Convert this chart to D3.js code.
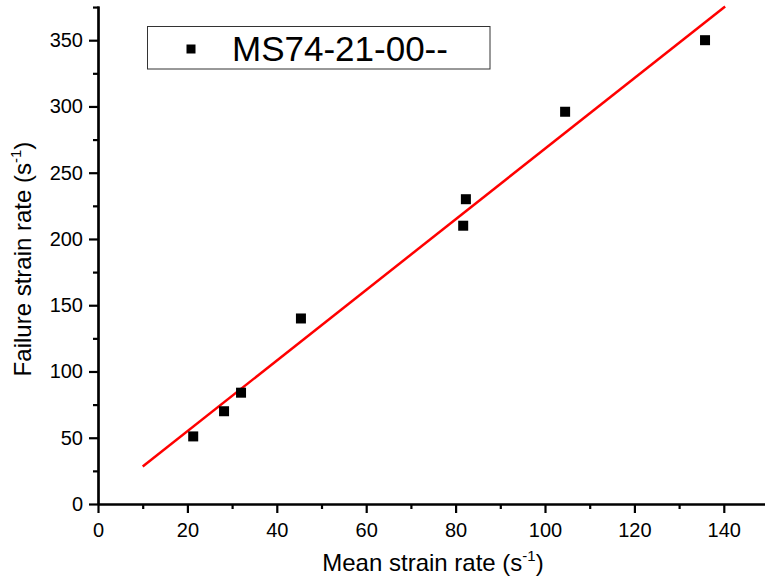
<!DOCTYPE html>
<html>
<head>
<meta charset="utf-8">
<script src="https://cdn.jsdelivr.net/npm/d3@7"></script>
<style>
    body { margin: 0; background: #fff; }
    text { font-family: Arial, 'Liberation Sans', sans-serif; fill: #000; }
</style>
</head>
<body>
<div class="chartPlaceholder"></div>
<script>
// data
const meanRate = [21.3, 28.2, 32.0, 45.4, 81.7, 82.3, 104.5, 135.8];
const failureRate = [51, 70, 84, 140, 210, 230, 296, 350];
const fitX = [10, 140.3];
const fitY = [28.3, 375.5];
const xTicks = [0, 20, 40, 60, 80, 100, 120, 140];
const yTicks = [0, 50, 100, 150, 200, 250, 300, 350];
const xMinor = [10, 30, 50, 70, 90, 110, 130, 150];
const yMinor = [25, 75, 125, 175, 225, 275, 325, 375];
const seriesName = 'MS74-21-00--';

const WIDTH = 765;
const HEIGHT = 579;
const PLOT = { LEFT: 98, RIGHT: 768.5, TOP: 6, BOTTOM: 504 };

let svg = d3
    .select('.chartPlaceholder')
    .append('svg')
    .attr('width', WIDTH)
    .attr('height', HEIGHT);

let xScale = d3.scaleLinear().domain([0, 150]).range([PLOT.LEFT, PLOT.RIGHT]);
let yScale = d3.scaleLinear().domain([0, 375.8]).range([PLOT.BOTTOM, PLOT.TOP]);

// 1. axes
function styleAxis(g) {
    g.selectAll('path, line').attr('stroke', '#000').attr('stroke-width', 2.2);
    g.selectAll('text')
        .attr('fill', '#000')
        .style('font-family', "Arial, 'Liberation Sans', sans-serif")
        .style('font-size', '20px');
}

svg.append('g')
    .attr('transform', `translate(0, ${PLOT.BOTTOM})`)
    .call(d3.axisBottom(xScale).tickValues(xMinor).tickSize(5).tickSizeOuter(0).tickFormat(''))
    .call(styleAxis);

svg.append('g')
    .attr('transform', `translate(${PLOT.LEFT}, 0)`)
    .call(d3.axisLeft(yScale).tickValues(yMinor).tickSize(5).tickSizeOuter(0).tickFormat(''))
    .call(styleAxis);

svg.append('g')
    .attr('id', 'x-axis')
    .attr('transform', `translate(0, ${PLOT.BOTTOM})`)
    .call(d3.axisBottom(xScale).tickValues(xTicks).tickSize(9).tickSizeOuter(0).tickPadding(10))
    .call(styleAxis);

svg.append('g')
    .attr('id', 'y-axis')
    .attr('transform', `translate(${PLOT.LEFT}, 0)`)
    .call(d3.axisLeft(yScale).tickValues(yTicks).tickSize(9).tickSizeOuter(0).tickPadding(6))
    .call(styleAxis);

// 2. axis titles
let xTitle = svg.append('text')
    .attr('x', 433)
    .attr('y', 571)
    .attr('text-anchor', 'middle')
    .style('font-size', '24px');
xTitle.append('tspan').text('Mean strain rate (s');
xTitle.append('tspan').attr('dy', -10).style('font-size', '15px').text('-1');
xTitle.append('tspan').attr('dy', 10).text(')');

let yTitle = svg.append('text')
    .attr('transform', 'translate(31, 259) rotate(-90)')
    .attr('text-anchor', 'middle')
    .style('font-size', '24px');
yTitle.append('tspan').text('Failure strain rate (s');
yTitle.append('tspan').attr('dy', -10).style('font-size', '15px').text('-1');
yTitle.append('tspan').attr('dy', 10).text(')');

// 3. fit line
let line = d3.line()
    .x(d => xScale(d[0]))
    .y(d => yScale(d[1]));

svg.append('path')
    .datum(fitX.map((x, i) => [x, fitY[i]]))
    .attr('d', line)
    .attr('fill', 'none')
    .attr('stroke', '#ff0000')
    .attr('stroke-width', 2.5);

// 4. points
const SQ = 10;
svg.selectAll('rect.point')
    .data(meanRate)
    .enter()
    .append('rect')
    .attr('class', 'point')
    .attr('x', d => xScale(d) - SQ / 2)
    .attr('y', (d, i) => yScale(failureRate[i]) - SQ / 2)
    .attr('width', SQ)
    .attr('height', SQ)
    .attr('fill', '#000');

// 5. legend
let legend = svg.append('g');
legend.append('rect')
    .attr('x', 147.5)
    .attr('y', 26.5)
    .attr('width', 342.5)
    .attr('height', 42.5)
    .attr('fill', '#fff')
    .attr('stroke', '#333')
    .attr('stroke-width', 1);
legend.append('rect')
    .attr('x', 186.5)
    .attr('y', 44.5)
    .attr('width', 9)
    .attr('height', 9)
    .attr('fill', '#000');
legend.append('text')
    .attr('x', 232)
    .attr('y', 61)
    .style('font-size', '35px')
    .text(seriesName);
</script>
</body>
</html>
